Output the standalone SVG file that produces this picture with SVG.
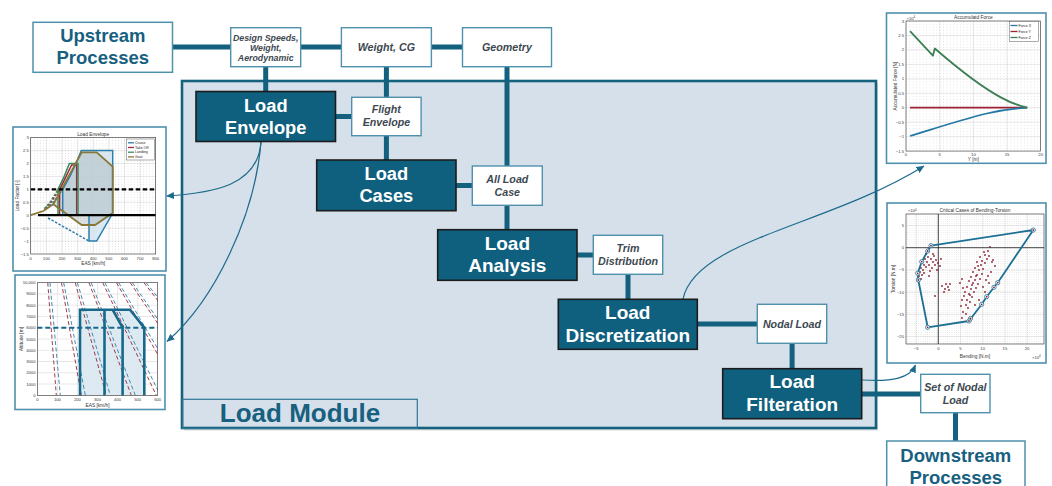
<svg xmlns="http://www.w3.org/2000/svg" width="1052" height="486" viewBox="0 0 1052 486">
<defs>
<style>
.node rect{fill:#0f5f7e;stroke:#1c1c1c;stroke-width:1.6}
.node text{fill:#fff;font-family:"Liberation Sans",Arial,sans-serif;font-weight:bold;font-size:18.3px;text-anchor:middle}
.big text{font-size:19px}
.data rect{fill:#fff;stroke:#4f90ad;stroke-width:1.4}
.data text{fill:#3d4850;font-family:"Liberation Sans",Arial,sans-serif;font-weight:bold;font-style:italic;font-size:10.7px;text-anchor:middle}
.data.small text{font-size:8.8px}
.io rect{fill:#fff;stroke:#4f90ad;stroke-width:1.5}
.io text{fill:#17607f;font-family:"Liberation Sans",Arial,sans-serif;font-weight:bold;font-size:18.5px;text-anchor:middle}
.bus{stroke:#13617f;stroke-width:5;fill:none}
.link{stroke:#1d6b8c;stroke-width:1.2;fill:none;marker-end:url(#arr)}
.frame{fill:#fff;stroke:#4f90ad;stroke-width:1.6}
.ax{fill:none;stroke:#2a2a2a;stroke-width:0.6}
.maj{stroke:#d0d0d0;stroke-width:0.5;fill:none}
.tk{font-family:"Liberation Sans",Arial,sans-serif;font-size:4.2px;fill:#3a3a3a}
.r{text-anchor:end}
.c{text-anchor:middle}
.lbl{font-family:"Liberation Sans",Arial,sans-serif;font-size:4.8px;fill:#333;text-anchor:middle}
.leg{font-family:"Liberation Sans",Arial,sans-serif;font-size:3.6px;fill:#222}
.dot{fill:#8b1e2f}
</style>
<marker id="arr" viewBox="0 0 8 7" refX="7.5" refY="3.5" markerWidth="8" markerHeight="7" markerUnits="userSpaceOnUse" orient="auto">
<path d="M0,0 L8,3.5 L0,7 Z" fill="#1d6b8c"/>
</marker>
<pattern id="g1" patternUnits="userSpaceOnUse" x="30.7" y="137.65" width="3.125" height="2.585"><rect width="0.6" height="0.6" fill="#bdbdbd"/></pattern>
<pattern id="g3" patternUnits="userSpaceOnUse" x="906" y="21" width="3.37" height="2.89"><rect width="0.6" height="0.6" fill="#bdbdbd"/></pattern>
<pattern id="g4" patternUnits="userSpaceOnUse" x="938.3" y="247.7" width="2.22" height="2.22"><rect width="0.55" height="0.55" fill="#c4c4c4"/></pattern>
<clipPath id="c2"><rect x="37.3" y="282.7" width="120.4" height="112.6"/></clipPath>
</defs>

<rect width="1052" height="486" fill="#fff"/>

<!-- Load Module container -->
<g id="load-module">
<rect x="184" y="83.5" width="694" height="347" fill="#8c979e" opacity="0.35"/>
<rect x="182" y="81" width="694" height="347" fill="#d6e0ea" stroke="#15627f" stroke-width="2.6"/>
<rect x="182.7" y="399.3" width="234.6" height="29" fill="none" stroke="#2f7597" stroke-width="1.2"/>
<text x="300" y="422.3" font-family="Liberation Sans, Arial, sans-serif" font-weight="bold" font-size="26" fill="#17607f" text-anchor="middle">Load Module</text>
</g>

<!-- connectors -->
<g id="connectors">
<path class="bus" d="M172.5,47 H462.5"/>
<path class="bus" d="M265.7,66.7 V91.5"/>
<path class="bus" d="M386.4,66.7 V97.3 M386.4,135.7 V160"/>
<path class="bus" d="M507,66.7 V166 M507,205.3 V229.7"/>
<path class="bus" d="M335.5,116.5 H351.7"/>
<path class="bus" d="M456,185.5 H472.3"/>
<path class="bus" d="M577,255 H593.3"/>
<path class="bus" d="M628,274.3 V299.3"/>
<path class="bus" d="M697.3,324 H757.3"/>
<path class="bus" d="M792.1,343.3 V368.7"/>
<path class="bus" d="M861.7,394 H920.7"/>
<path class="bus" d="M955.5,412.7 V441"/>
<path class="link" d="M261,142 C258,185 215,193 166.5,196"/>
<path class="link" d="M261,142 C255,215 215,300 167,341.5"/>
<path class="link" d="M683,299 C695,240 830,225 924,166"/>
<path class="link" d="M862,380 C893,382 910,378 915.5,365"/>
</g>

<!-- external processes -->
<g id="upstream" class="io">
<rect x="33" y="22.3" width="139.5" height="50"/>
<text x="102.8" y="42.3">Upstream</text>
<text x="102.8" y="64.3">Processes</text>
</g>
<g id="downstream" class="io">
<rect x="886.7" y="441" width="138.3" height="52"/>
<text x="955.8" y="461.5">Downstream</text>
<text x="955.8" y="483.7">Processes</text>
</g>

<!-- data boxes -->
<g id="design-speeds" class="data small">
<rect x="230.7" y="27.7" width="70" height="39"/>
<text x="265.7" y="40.5">Design Speeds,</text>
<text x="265.7" y="50.5">Weight,</text>
<text x="265.7" y="60.5">Aerodynamic</text>
</g>
<g id="weight-cg" class="data">
<rect x="341.4" y="27.7" width="90" height="39"/>
<text x="386.4" y="50.8">Weight, CG</text>
</g>
<g id="geometry" class="data">
<rect x="462.5" y="27.7" width="89" height="39"/>
<text x="507" y="50.8">Geometry</text>
</g>
<g id="flight-envelope" class="data">
<rect x="351.7" y="97.3" width="69.4" height="38.4"/>
<text x="386.4" y="113.4">Flight</text>
<text x="386.4" y="126.4">Envelope</text>
</g>
<g id="all-load-case" class="data">
<rect x="472.3" y="166" width="70" height="39.3"/>
<text x="507.3" y="182.8">All Load</text>
<text x="507.3" y="195.8">Case</text>
</g>
<g id="trim-distribution" class="data">
<rect x="593.3" y="235.3" width="69.4" height="39"/>
<text x="628" y="251.9">Trim</text>
<text x="628" y="264.9">Distribution</text>
</g>
<g id="nodal-load" class="data">
<rect x="757.3" y="304.3" width="69.4" height="39"/>
<text x="792" y="327.6">Nodal Load</text>
</g>
<g id="set-of-nodal-load" class="data">
<rect x="920.7" y="374.3" width="69.3" height="38.4"/>
<text x="955.4" y="390.5">Set of Nodal</text>
<text x="955.4" y="403.6">Load</text>
</g>

<!-- process nodes -->
<g id="load-envelope" class="node">
<rect x="196" y="91.5" width="139.5" height="50"/>
<text x="265.75" y="111.5">Load</text>
<text x="265.75" y="133.5">Envelope</text>
</g>
<g id="load-cases" class="node">
<rect x="316.7" y="160" width="139.3" height="50.7"/>
<text x="386.35" y="180">Load</text>
<text x="386.35" y="202">Cases</text>
</g>
<g id="load-analysis" class="node big">
<rect x="437.7" y="229.7" width="139.3" height="50.6"/>
<text x="507.35" y="249.5">Load</text>
<text x="507.35" y="272">Analysis</text>
</g>
<g id="load-discretization" class="node big">
<rect x="558.3" y="299.3" width="139" height="50"/>
<text x="627.8" y="319">Load</text>
<text x="627.8" y="341.5">Discretization</text>
</g>
<g id="load-filteration" class="node big">
<rect x="722.7" y="368.7" width="139" height="50"/>
<text x="792.2" y="388.4">Load</text>
<text x="792.2" y="411">Filteration</text>
</g>

<!-- plot: load envelope (V-n diagram) -->
<g id="plot-load-envelope">
<rect class="frame" x="13" y="127" width="153" height="144"/>
<rect x="30.7" y="137.65" width="125" height="116.35" fill="url(#g1)"/>
<path class="maj" d="M46.3,137.65V254M61.95,137.65V254M77.6,137.65V254M93.2,137.65V254M108.8,137.65V254M124.45,137.65V254M140.1,137.65V254M30.7,150.6H155.7M30.7,163.5H155.7M30.7,176.4H155.7M30.7,189.35H155.7M30.7,202.3H155.7M30.7,215.2H155.7M30.7,228.1H155.7M30.7,241.05H155.7"/>
<polygon points="62.7,215.2 62.7,189.35 69.9,176.4 76,163.5 81.3,150.6 112.7,150.6 112.7,213 96.7,241.05 89,241.05 89,215.2" fill="#cfe2ee" opacity="0.8"/>
<polygon points="53.3,204.3 81.7,152.3 96.7,152.3 112.7,166.7 112.7,213 95,225 81.7,225" fill="#9aa6ab" opacity="0.35"/>
<g fill="none" stroke-width="1.5">
<path stroke="#2a7fad" d="M62.7,215.2 V189.35 L69.9,176.4 L76,163.5 L81.3,150.6 H112.7 V213 L96.7,241.05 H89 V215.2"/>
<path stroke="#2a7fad" stroke-dasharray="2.5,1.5" d="M46.7,208.7 L53.4,202.3 L62.7,189.35 M48,218 L89,241"/>
<path stroke="#9e2a3c" d="M59.6,215.2 V189.35 L66.1,176.4 L71.6,165 H76.7 V215.2"/>
<path stroke="#9e2a3c" stroke-dasharray="2.5,1.5" d="M45.2,208.7 L51.1,202.3 L59.6,189.35"/>
<path stroke="#3a8a5e" d="M58,215.2 V189.35 L64.2,176.4 L69.4,163.5 H78 V215.2"/>
<path stroke="#3a8a5e" stroke-dasharray="2.5,1.5" d="M44.4,208.7 L50,202.3 L58,189.35"/>
</g>
<path fill="none" stroke="#877739" stroke-width="1.8" d="M30.7,215.2 L43.3,211 L53.3,204.3 M53.3,204.3 L81.7,152.3 H96.7 L112.7,166.7 V213 L95,225 H81.7 Z"/>
<path stroke="#000" stroke-width="2.2" stroke-dasharray="4.5,2.5" d="M30.7,189.35 H155.7"/>
<path stroke="#000" stroke-width="2.2" d="M38,215.2 H155.7"/>
<rect class="ax" x="30.7" y="137.65" width="125" height="116.35"/>
<rect x="126.7" y="139" width="27.6" height="21" fill="#fff" stroke="#333" stroke-width="0.4"/>
<g stroke-width="1.3">
<path stroke="#2a7fad" d="M128,142.8 H134"/>
<path stroke="#9e2a3c" d="M128,147.5 H134"/>
<path stroke="#3a8a5e" d="M128,152.2 H134"/>
<path stroke="#877739" d="M128,156.9 H134"/>
</g>
<text class="leg" x="135" y="144">Cruise</text>
<text class="leg" x="135" y="148.7">Take-Off</text>
<text class="leg" x="135" y="153.4">Landing</text>
<text class="leg" x="135" y="158.1">Gust</text>
<text class="lbl" x="93.2" y="135.5">Load Envelope</text>
<text class="tk r" x="28.8" y="139.1">3</text>
<text class="tk r" x="28.8" y="152">2.5</text>
<text class="tk r" x="28.8" y="165">2</text>
<text class="tk r" x="28.8" y="177.9">1.5</text>
<text class="tk r" x="28.8" y="190.8">1</text>
<text class="tk r" x="28.8" y="203.8">0.5</text>
<text class="tk r" x="28.8" y="216.7">0</text>
<text class="tk r" x="28.8" y="229.6">−0.5</text>
<text class="tk r" x="28.8" y="242.5">−1</text>
<text class="tk r" x="28.8" y="255.5">−1.5</text>
<text class="tk c" x="30.7" y="259.6">0</text>
<text class="tk c" x="46.3" y="259.6">100</text>
<text class="tk c" x="61.95" y="259.6">200</text>
<text class="tk c" x="77.6" y="259.6">300</text>
<text class="tk c" x="93.2" y="259.6">400</text>
<text class="tk c" x="108.8" y="259.6">500</text>
<text class="tk c" x="124.45" y="259.6">600</text>
<text class="tk c" x="140.1" y="259.6">700</text>
<text class="tk c" x="155.7" y="259.6">800</text>
<text class="lbl" x="93.2" y="265">EAS [km/h]</text>
<text class="lbl" transform="translate(19,196) rotate(-90)">Load Factor [-]</text>
</g>

<!-- plot: flight envelope (altitude vs EAS) -->
<g id="plot-altitude">
<rect class="frame" x="15" y="275" width="150" height="134.5"/>
<path class="maj" d="M57.4,282.7V395.3M77.4,282.7V395.3M97.5,282.7V395.3M117.6,282.7V395.3M137.7,282.7V395.3M37.3,384.04H157.7M37.3,372.78H157.7M37.3,361.52H157.7M37.3,350.26H157.7M37.3,339H157.7M37.3,327.74H157.7M37.3,316.48H157.7M37.3,305.22H157.7M37.3,293.96H157.7"/>
<polygon points="80,395.3 80,309.7 130,309.7 144.3,327.7 144.3,395.3" fill="#d9e8f1" opacity="0.9"/>
<g clip-path="url(#c2)" fill="none" stroke-width="0.9" stroke-dasharray="4,2.5">
<path stroke="#9b2335" d="M47.75,282.7 L56.3,395.3 M61.5,282.7 L81.3,395.3 M75.25,282.7 L106.3,395.3 M89,282.7 L131.3,395.3 M102.75,282.7 L156.3,395.3 M116.5,282.7 L181.3,395.3 M130.25,282.7 L206.3,395.3 M144,282.7 L231.3,395.3 M157.75,282.7 L256.3,395.3"/>
<path stroke="#2a7fad" d="M49.95,282.7 L60.3,395.3 M63.7,282.7 L85.3,395.3 M77.45,282.7 L110.3,395.3 M91.2,282.7 L135.3,395.3 M104.95,282.7 L160.3,395.3 M118.7,282.7 L185.3,395.3 M132.45,282.7 L210.3,395.3 M146.2,282.7 L235.3,395.3"/>
</g>
<g fill="none" stroke="#17698c" stroke-width="2.6">
<path d="M80,395.3 V309.7 H130 L144.3,327.7 V395.3"/>
<path d="M104.5,395.3 V309.7"/>
<path d="M122.6,395.3 V327.7 L112.6,309.7"/>
</g>
<path stroke="#17698c" stroke-width="2" stroke-dasharray="5,3" d="M37.3,327.7 H157.7"/>
<rect class="ax" x="37.3" y="282.7" width="120.4" height="112.6"/>
<text class="tk r" x="35.5" y="284.2">10,000</text>
<text class="tk r" x="35.5" y="295.4">9000</text>
<text class="tk r" x="35.5" y="306.7">8000</text>
<text class="tk r" x="35.5" y="318">7000</text>
<text class="tk r" x="35.5" y="329.2">6000</text>
<text class="tk r" x="35.5" y="340.5">5000</text>
<text class="tk r" x="35.5" y="351.8">4000</text>
<text class="tk r" x="35.5" y="363">3000</text>
<text class="tk r" x="35.5" y="374.3">2000</text>
<text class="tk r" x="35.5" y="385.5">1000</text>
<text class="tk r" x="35.5" y="396.8">0</text>
<text class="tk c" x="37.3" y="400.8">0</text>
<text class="tk c" x="57.4" y="400.8">100</text>
<text class="tk c" x="77.4" y="400.8">200</text>
<text class="tk c" x="97.5" y="400.8">300</text>
<text class="tk c" x="117.6" y="400.8">400</text>
<text class="tk c" x="137.7" y="400.8">500</text>
<text class="tk c" x="157.7" y="400.8">600</text>
<text class="lbl" x="97.5" y="406.8">EAS [km/h]</text>
<text class="lbl" transform="translate(23,339) rotate(-90)">Altitude [m]</text>
</g>

<!-- plot: accumulated force along span -->
<g id="plot-accumulated-force">
<rect class="frame" x="886.5" y="13" width="159.5" height="150.3"/>
<rect x="906" y="21" width="134.7" height="130.05" fill="url(#g3)"/>
<path class="maj" d="M939.7,21V151.05M973.4,21V151.05M1007,21V151.05M906,35.45H1040.7M906,49.9H1040.7M906,64.35H1040.7M906,78.8H1040.7M906,93.25H1040.7M906,107.7H1040.7M906,122.15H1040.7M906,136.6H1040.7"/>
<g fill="none" stroke-width="1.8" stroke-linejoin="round">
<path stroke="#9b2335" d="M910,107.7 H1027.2"/>
<path stroke="#2578a5" d="M910,136 C930,130 960,120 986.8,113.5 C1000,110.5 1015,108.5 1027.2,107.7"/>
<path stroke="#3d7f55" d="M910,31.1 L932.9,55.7 L934.8,48.5 C955,66 980,86 1000.3,97.1 C1010,102.5 1020,106 1027.2,107.7"/>
</g>
<rect class="ax" x="906" y="21" width="134.7" height="130.05"/>
<rect x="1009.3" y="21.5" width="29" height="20" fill="#fff" stroke="#333" stroke-width="0.4"/>
<g stroke-width="1.3">
<path stroke="#2578a5" d="M1010.5,25.5 H1017.5"/>
<path stroke="#9b2335" d="M1010.5,31.5 H1017.5"/>
<path stroke="#3d7f55" d="M1010.5,37.5 H1017.5"/>
</g>
<text class="leg" x="1018.5" y="26.8">Force X</text>
<text class="leg" x="1018.5" y="32.8">Force Y</text>
<text class="leg" x="1018.5" y="38.8">Force Z</text>
<text class="lbl" x="973.4" y="19.3">Accumulatd Force</text>
<text class="tk" x="906.5" y="19.6">×10<tspan dy="-1.6" font-size="3">4</tspan></text>
<text class="tk r" x="904" y="22.5">3</text>
<text class="tk r" x="904" y="37">2.5</text>
<text class="tk r" x="904" y="51.4">2</text>
<text class="tk r" x="904" y="65.9">1.5</text>
<text class="tk r" x="904" y="80.3">1</text>
<text class="tk r" x="904" y="94.8">0.5</text>
<text class="tk r" x="904" y="109.2">0</text>
<text class="tk r" x="904" y="123.7">−0.5</text>
<text class="tk r" x="904" y="138.1">−1</text>
<text class="tk r" x="904" y="152.6">−1.5</text>
<text class="tk c" x="906" y="156.4">0</text>
<text class="tk c" x="939.7" y="156.4">5</text>
<text class="tk c" x="973.4" y="156.4">10</text>
<text class="tk c" x="1007" y="156.4">15</text>
<text class="tk c" x="1040.7" y="156.4">20</text>
<text class="lbl" x="973.4" y="161.3">Y [m]</text>
<text class="lbl" transform="translate(896.5,86) rotate(-90)">Accumulated Force [N]</text>
</g>

<!-- plot: bending-torsion critical cases -->
<g id="plot-bending-torsion">
<rect class="frame" x="887" y="203" width="159" height="160"/>
<rect x="906" y="214" width="138" height="130" fill="url(#g4)"/>
<path class="maj" d="M916.1,214V344M960.5,214V344M982.7,214V344M1004.9,214V344M1027.1,214V344M906,225.5H1044M906,269.9H1044M906,292.1H1044M906,314.3H1044M906,336.5H1044"/>
<path stroke="#111" stroke-width="0.8" d="M938.3,214 V344 M906,247.7 H1044"/>
<g class="dot">
<circle cx="922" cy="262" r="0.9"/><circle cx="924" cy="265" r="0.9"/><circle cx="921" cy="268" r="0.9"/><circle cx="923" cy="270" r="0.9"/><circle cx="925" cy="259" r="0.9"/><circle cx="927" cy="262" r="0.9"/><circle cx="926" cy="267" r="0.9"/><circle cx="920" cy="272" r="0.9"/><circle cx="922" cy="275" r="0.9"/><circle cx="924" cy="273" r="0.9"/><circle cx="928" cy="257" r="0.9"/><circle cx="929" cy="265" r="0.9"/><circle cx="931" cy="259" r="0.9"/><circle cx="933" cy="262" r="0.9"/><circle cx="932" cy="268" r="0.9"/><circle cx="934" cy="256" r="0.9"/><circle cx="936" cy="260" r="0.9"/><circle cx="935" cy="265" r="0.9"/><circle cx="938" cy="263" r="0.9"/><circle cx="940" cy="266" r="0.9"/><circle cx="937" cy="270" r="0.9"/><circle cx="941" cy="259" r="0.9"/><circle cx="930" cy="271" r="0.9"/><circle cx="919" cy="276" r="0.9"/><circle cx="921" cy="279" r="0.9"/><circle cx="929" cy="276" r="0.9"/><circle cx="935" cy="296" r="0.9"/><circle cx="942" cy="286" r="0.9"/><circle cx="946" cy="284" r="0.9"/><circle cx="948" cy="287" r="0.9"/><circle cx="950" cy="284" r="0.9"/><circle cx="945" cy="289" r="0.9"/><circle cx="944" cy="292" r="0.9"/><circle cx="949" cy="290" r="0.9"/><circle cx="933" cy="254" r="0.9"/><circle cx="926" cy="254" r="0.9"/>
<circle cx="963" cy="312" r="0.9"/><circle cx="968" cy="308" r="0.9"/><circle cx="961" cy="306" r="0.9"/><circle cx="966" cy="305" r="0.9"/><circle cx="970" cy="302" r="0.9"/><circle cx="962" cy="300" r="0.9"/><circle cx="967" cy="300" r="0.9"/><circle cx="972" cy="297" r="0.9"/><circle cx="964" cy="296" r="0.9"/><circle cx="969" cy="294" r="0.9"/><circle cx="970" cy="295" r="0.9"/><circle cx="965" cy="292" r="0.9"/><circle cx="974" cy="292" r="0.9"/><circle cx="971" cy="289" r="0.9"/><circle cx="967" cy="287" r="0.9"/><circle cx="976" cy="288" r="0.9"/><circle cx="972" cy="285" r="0.9"/><circle cx="973" cy="283" r="0.9"/><circle cx="969" cy="281" r="0.9"/><circle cx="978" cy="284" r="0.9"/><circle cx="975" cy="280" r="0.9"/><circle cx="971" cy="277" r="0.9"/><circle cx="980" cy="279" r="0.9"/><circle cx="976" cy="276" r="0.9"/><circle cx="977" cy="275" r="0.9"/><circle cx="973" cy="272" r="0.9"/><circle cx="982" cy="274" r="0.9"/><circle cx="979" cy="270" r="0.9"/><circle cx="975" cy="268" r="0.9"/><circle cx="983" cy="269" r="0.9"/><circle cx="978" cy="266" r="0.9"/><circle cx="981" cy="265" r="0.9"/><circle cx="985" cy="263" r="0.9"/><circle cx="977" cy="262" r="0.9"/><circle cx="982" cy="261" r="0.9"/><circle cx="987" cy="259" r="0.9"/><circle cx="980" cy="257" r="0.9"/><circle cx="985" cy="255" r="0.9"/><circle cx="989" cy="256" r="0.9"/><circle cx="984" cy="252" r="0.9"/><circle cx="988" cy="251" r="0.9"/><circle cx="992" cy="262" r="0.9"/><circle cx="990" cy="247" r="0.9"/><circle cx="993" cy="260" r="0.9"/><circle cx="995" cy="266" r="0.9"/><circle cx="991" cy="272" r="0.9"/><circle cx="988" cy="276" r="0.9"/><circle cx="986" cy="280" r="0.9"/><circle cx="983" cy="287" r="0.9"/><circle cx="989" cy="283" r="0.9"/><circle cx="985" cy="292" r="0.9"/><circle cx="979" cy="300" r="0.9"/><circle cx="975" cy="305" r="0.9"/><circle cx="966" cy="314" r="0.9"/><circle cx="962" cy="318" r="0.9"/><circle cx="960" cy="283" r="0.9"/><circle cx="962" cy="279" r="0.9"/><circle cx="963" cy="288" r="0.9"/>
</g>
<path fill="none" stroke="#1d6f94" stroke-width="1.8" stroke-linejoin="round" d="M931,245.7 L1033.3,230 L997.7,282.7 L994,287.3 L986.7,296.7 L981.7,304.3 L969,321 L927.7,327.3 L918.3,280 L917.7,273.3 L921.7,261.7 L927.7,251 Z"/>
<g fill="#fff" stroke="#1d6f94" stroke-width="0.8">
<circle cx="931" cy="245.7" r="2.1"/><circle cx="1033.3" cy="230" r="2.1"/><circle cx="997.7" cy="282.7" r="2.1"/><circle cx="994" cy="287.3" r="2.1"/><circle cx="986.7" cy="296.7" r="2.1"/><circle cx="981.7" cy="304.3" r="2.1"/><circle cx="970.5" cy="318.5" r="2.1"/><circle cx="969" cy="321" r="2.1"/><circle cx="927.7" cy="327.3" r="2.1"/><circle cx="918.3" cy="280" r="2.1"/><circle cx="917.7" cy="273.3" r="2.1"/><circle cx="921.7" cy="261.7" r="2.1"/><circle cx="927.7" cy="251" r="2.1"/>
</g>
<g class="dot">
<circle cx="931" cy="245.7" r="0.9"/><circle cx="1033.3" cy="230" r="0.9"/><circle cx="997.7" cy="282.7" r="0.9"/><circle cx="994" cy="287.3" r="0.9"/><circle cx="986.7" cy="296.7" r="0.9"/><circle cx="981.7" cy="304.3" r="0.9"/><circle cx="970.5" cy="318.5" r="0.9"/><circle cx="969" cy="321" r="0.9"/><circle cx="927.7" cy="327.3" r="0.9"/><circle cx="918.3" cy="280" r="0.9"/><circle cx="917.7" cy="273.3" r="0.9"/><circle cx="921.7" cy="261.7" r="0.9"/><circle cx="927.7" cy="251" r="0.9"/>
</g>
<rect class="ax" x="906" y="214" width="138" height="130"/>
<text class="lbl" x="975" y="212">Critical Cases of Bending-Torsion</text>
<text class="tk" x="908" y="212.3">×10<tspan dy="-1.6" font-size="3">4</tspan></text>
<text class="tk" x="1032" y="358.5">×10<tspan dy="-1.6" font-size="3">4</tspan></text>
<text class="tk r" x="904" y="227">5</text>
<text class="tk r" x="904" y="249.2">0</text>
<text class="tk r" x="904" y="271.4">−5</text>
<text class="tk r" x="904" y="293.6">−10</text>
<text class="tk r" x="904" y="315.8">−15</text>
<text class="tk r" x="904" y="338">−20</text>
<text class="tk c" x="916.1" y="349.5">−5</text>
<text class="tk c" x="938.3" y="349.5">0</text>
<text class="tk c" x="960.5" y="349.5">5</text>
<text class="tk c" x="982.7" y="349.5">10</text>
<text class="tk c" x="1004.9" y="349.5">15</text>
<text class="tk c" x="1027.1" y="349.5">20</text>
<text class="lbl" x="975" y="357.5">Bending [N.m]</text>
<text class="lbl" transform="translate(895,279) rotate(-90)">Torsion [N.m]</text>
</g>
</svg>
